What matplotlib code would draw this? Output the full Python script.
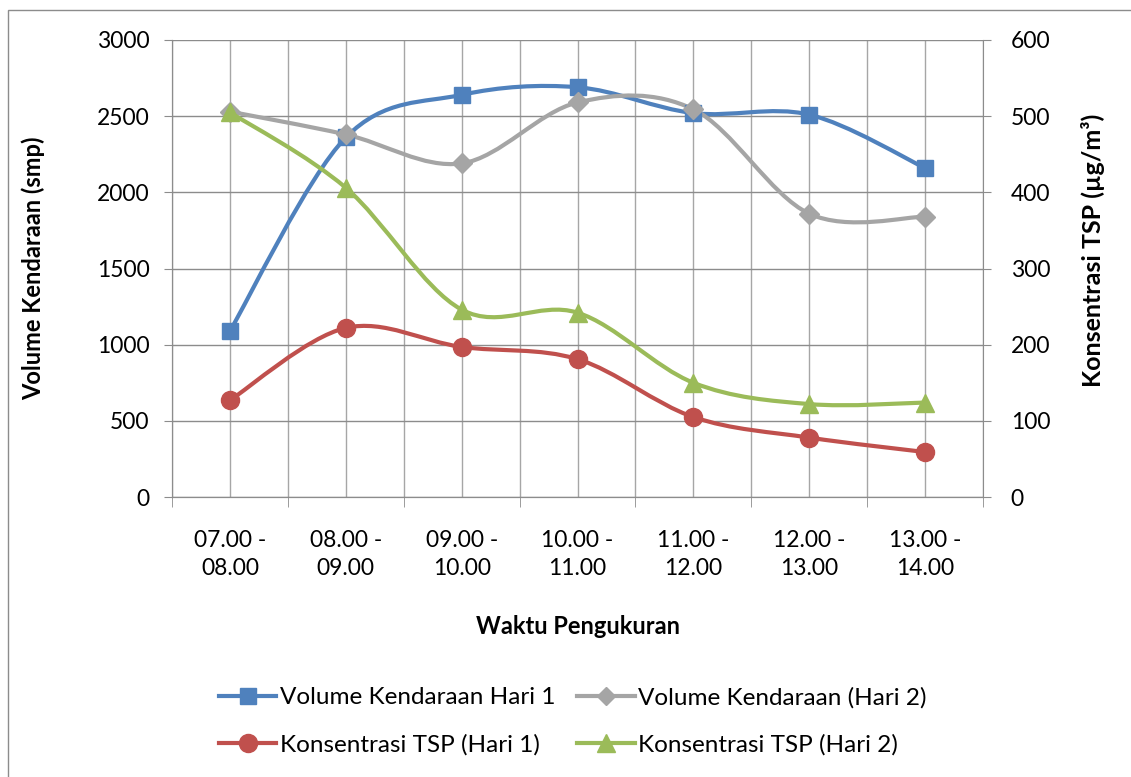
import matplotlib
matplotlib.use("Agg")
import matplotlib.pyplot as plt
import numpy as np
from matplotlib.path import Path
from matplotlib.patches import PathPatch, Rectangle
from matplotlib.lines import Line2D

plt.rcParams['font.family'] = ['Lato', 'DejaVu Sans']

# data
waktu = ["07.00 -\n08.00", "08.00 -\n09.00", "09.00 -\n10.00", "10.00 -\n11.00",
         "11.00 -\n12.00", "12.00 -\n13.00", "13.00 -\n14.00"]
volume_hari1 = [1090, 2360, 2640, 2690, 2520, 2510, 2160]
volume_hari2 = [2530, 2380, 2190, 2590, 2545, 1860, 1840]
tsp_hari1 = [127, 222, 197, 181, 105, 78, 59]
tsp_hari2 = [505, 406, 246, 242, 150, 122, 124]

c_blue = "#4F81BD"
c_gray = "#A5A5A5"
c_red = "#C0504D"
c_green = "#9BBB59"


def smooth_path(x, y, t=1.0 / 6):
    # excel-like smoothed line: cubic bezier with catmull-rom control points
    x = np.asarray(x, float)
    y = np.asarray(y, float)
    n = len(x)
    verts = [(x[0], y[0])]
    codes = [Path.MOVETO]
    for i in range(n - 1):
        p0 = np.array([x[max(i - 1, 0)], y[max(i - 1, 0)]])
        p1 = np.array([x[i], y[i]])
        p2 = np.array([x[i + 1], y[i + 1]])
        p3 = np.array([x[min(i + 2, n - 1)], y[min(i + 2, n - 1)]])
        c1 = p1 + (p2 - p0) * t
        c2 = p2 - (p3 - p1) * t
        verts += [tuple(c1), tuple(c2), tuple(p2)]
        codes += [Path.CURVE4] * 3
    return Path(verts, codes)


def draw_series(ax, y, color, marker, ms):
    x = np.arange(len(y))
    ax.add_patch(PathPatch(smooth_path(x, y), fill=False, edgecolor=color,
                           lw=3, capstyle='round', joinstyle='round', zorder=3))
    ax.plot(x, y, ls='none', marker=marker, ms=ms, color=color,
            markeredgecolor=color, zorder=4)


fig = plt.figure(figsize=(11.31, 7.77), dpi=100)
fig.patches.append(Rectangle((8 / 1131, -0.1), 1.2, (777 - 10) / 777 + 0.1,
                             transform=fig.transFigure, fill=False,
                             edgecolor="#8c8c8c", lw=1))

ax = fig.add_axes([172 / 1131, 1 - 497 / 777, (983 - 172) / 1131, (497 - 40) / 777])
ax2 = ax.twinx()

xs = np.arange(len(waktu))
ax.set_xlim(-0.5, len(waktu) - 0.5)
ax.set_ylim(0, 3000)
ax.set_yticks(np.arange(0, 3001, 500))
ax2.set_ylim(0, 600)
ax2.set_yticks(np.arange(0, 601, 100))

ax.set_xticks(xs)
ax.set_xticklabels(waktu, fontsize=16.5, linespacing=1.4)
ax.set_xticks(np.arange(-0.5, len(waktu)), minor=True)
ax.tick_params(axis='x', which='major', length=0, pad=24)
ax.tick_params(axis='x', which='minor', length=7, color="#8c8c8c")
ax.tick_params(axis='y', length=6, color="#8c8c8c", labelsize=16.5, pad=10)
ax2.tick_params(axis='y', length=6, color="#8c8c8c", labelsize=16.5, pad=14)

ax.grid(True, which='both', axis='x', color="#a6a6a6", lw=1)
ax.grid(True, which='major', axis='y', color="#8c8c8c", lw=1)
ax.set_axisbelow(True)

for a in (ax, ax2):
    a.spines['top'].set_visible(False)
    a.spines['left'].set_color("#8c8c8c")
    a.spines['right'].set_color("#8c8c8c")
    a.spines['bottom'].set_color("#8c8c8c")
ax.spines['right'].set_visible(False)

lab_font = dict(fontsize=17, fontweight='bold')
ax.set_ylabel("Volume Kendaraan (smp)", labelpad=0, **lab_font)
ax.yaxis.set_label_coords(-(172 - 33) / 811, 0.5)
ax2.set_ylabel("Konsentrasi TSP (µg/m³)", fontsize=18, fontweight='bold')
ax2.yaxis.set_label_coords(1 + (1093 - 983) / 811, 0.54)
ax2.yaxis.label.set_rotation(90)
ax.set_xlabel("Waktu Pengukuran", **lab_font)
ax.xaxis.set_label_coords(0.5, -(626 - 497) / 457)
ax.xaxis.label.set_va('center')
ax.yaxis.label.set_va('center')
ax2.yaxis.label.set_va('center')

draw_series(ax, volume_hari1, c_blue, 's', 12)
draw_series(ax, volume_hari2, c_gray, 'D', 10.5)
draw_series(ax2, tsp_hari1, c_red, 'o', 13)
draw_series(ax2, tsp_hari2, c_green, '^', 13)

handles = [
    Line2D([], [], color=c_blue, lw=3, marker='s', ms=12),
    Line2D([], [], color=c_red, lw=3, marker='o', ms=13),
    Line2D([], [], color=c_gray, lw=3, marker='D', ms=9),
    Line2D([], [], color=c_green, lw=3, marker='^', ms=13),
]
labels = ["Volume Kendaraan Hari 1", "Konsentrasi TSP (Hari 1)",
          "Volume Kendaraan (Hari 2)", "Konsentrasi TSP (Hari 2)"]
fig.legend(handles, labels, ncol=2, loc='center', bbox_to_anchor=(573 / 1131, 1 - 721 / 777),
           frameon=False, fontsize=17.5, handlelength=2.35, handletextpad=0.15,
           columnspacing=0.9, labelspacing=1.05)

fig.savefig("out.png", dpi=100)
